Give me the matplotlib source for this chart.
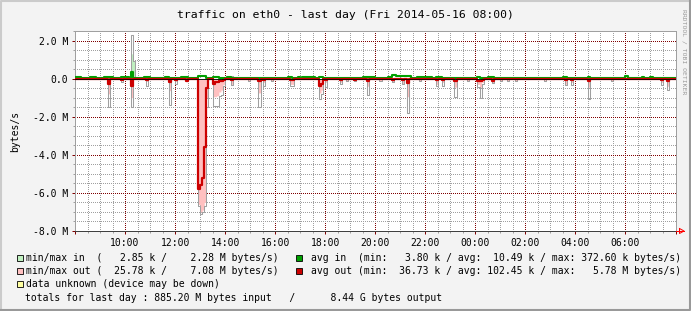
import matplotlib
matplotlib.use("Agg")
import matplotlib.pyplot as plt
from matplotlib.lines import Line2D
from matplotlib.patches import Rectangle
import numpy as np

W, H = 691, 311

title = "traffic on eth0 - last day (Fri 2014-05-16 08:00)"
hour_ticks = [0, 2, 4, 6, 8, 10, 12, 14, 16, 18, 20, 22, 24]
hour_labels = ["", "10:00", "12:00", "14:00", "16:00", "18:00", "20:00",
               "22:00", "00:00", "02:00", "04:00", "06:00", ""]
y_ticks = [2, 0, -2, -4, -6, -8]
y_labels = ["2.0 M", "0.0", "-2.0 M", "-4.0 M", "-6.0 M", "-8.0 M"]

# outgoing traffic, 5 minute samples that stand out (M bytes/s, drawn downward)
out_times = ["09:20", "09:50", "10:15", "10:50", "11:45", "12:00", "12:25",
             "12:55", "13:00", "13:05", "13:10", "13:15",
             "13:30", "13:35", "13:40", "13:45", "13:50", "13:55",
             "14:15", "14:55", "15:20", "15:30", "15:50", "16:35", "16:40",
             "17:45", "17:50", "18:00", "18:35", "18:50", "19:10", "19:40",
             "20:10", "20:40", "21:05", "21:15", "21:45", "22:25", "22:40",
             "23:10", "23:40", "00:05", "00:10", "00:15", "00:40", "01:00",
             "01:15", "01:35", "02:45", "03:35", "03:50", "04:30", "05:25",
             "07:25", "07:40"]
out_peak = [1.47, 0.20, 1.47, 0.37, 1.37, 0.30, 0.15,
            6.70, 7.10, 7.00, 6.70, 1.50,
            1.45, 1.45, 1.45, 0.90, 0.85, 0.40,
            0.35, 0.15, 1.50, 0.40, 0.15, 0.40, 0.40,
            1.05, 0.80, 0.45, 0.30, 0.15, 0.15, 0.85,
            0.15, 0.20, 0.30, 1.80, 0.15, 0.40, 0.40,
            0.95, 0.15, 0.45, 1.00, 0.30, 0.25, 0.15,
            0.15, 0.15, 0.10, 0.35, 0.35, 1.05, 0.15,
            0.35, 0.60]
out_max = [0.80, 0.10, 1.00, 0.15, 0.63, 0.15, 0.10,
           6.60, 7.00, 6.90, 6.50, 1.00,
           0.95, 0.95, 0.90, 0.70, 0.60, 0.30,
           0.30, 0.10, 0.75, 0.20, 0.10, 0.30, 0.30,
           0.75, 0.60, 0.20, 0.20, 0.10, 0.15, 0.40,
           0.10, 0.20, 0.30, 0.95, 0.10, 0.30, 0.20,
           0.45, 0.10, 0.30, 0.45, 0.20, 0.20, 0.10,
           0.10, 0.10, 0.08, 0.30, 0.20, 0.45, 0.10,
           0.20, 0.40]
out_avg = [0.30, 0.05, 0.37, 0.05, 0.20, 0.05, 0.10,
           5.80, 5.60, 5.20, 3.60, 0.50,
           0.30, 0.20, 0.20, 0.15, 0.10, 0.05,
           0.05, 0.03, 0.15, 0.05, 0.03, 0.05, 0.05,
           0.40, 0.30, 0.05, 0.05, 0.03, 0.05, 0.10,
           0.03, 0.05, 0.05, 0.25, 0.03, 0.05, 0.05,
           0.10, 0.03, 0.10, 0.15, 0.05, 0.10, 0.03,
           0.03, 0.03, 0.03, 0.05, 0.05, 0.15, 0.03,
           0.05, 0.10]
out_avg_base = 0.03

# incoming traffic (drawn upward)
in_times = ["10:15", "10:20", "14:15", "06:00"]
in_peak = [2.28, 0.95, 0.15, 0.12]
in_max = [1.30, 0.95, 0.10, 0.10]

in_avg_start = ["08:00", "08:35", "09:10", "09:50", "10:15", "10:45", "11:35",
                "12:15", "12:55", "13:30", "14:05", "16:30", "16:55", "17:05",
                "17:45", "19:30", "20:30", "20:40", "20:50", "21:40", "22:25",
                "00:05", "00:30", "03:30", "04:30", "06:00", "06:40", "07:00"]
in_avg_end = ["08:15", "08:50", "09:30", "10:10", "10:20", "11:00", "11:45",
              "12:30", "13:15", "13:45", "14:15", "16:40", "17:00", "17:35",
              "17:55", "20:00", "20:40", "20:50", "21:25", "22:15", "22:40",
              "00:10", "00:45", "03:40", "04:35", "06:05", "06:45", "07:05"]
in_avg_level = [0.08, 0.08, 0.08, 0.08, 0.37, 0.06, 0.06,
                0.06, 0.12, 0.08, 0.06, 0.06, 0.06, 0.08,
                0.08, 0.08, 0.10, 0.18, 0.12, 0.08, 0.08,
                0.08, 0.08, 0.06, 0.06, 0.15, 0.06, 0.06]
in_avg_base = 0.01

in_stats = [2.85, 2.28]
out_stats = [25.78, 7.08]
in_avg_stats = [3.80, 10.49, 372.60]
out_avg_stats = [36.73, 102.45, 5.78]
totals = [885.20, 8.44]

PINK = "#FFC0C0"
LGREEN = "#C0F0C0"
RED = "#CC0000"
GREEN = "#00A000"
GRAY = "#A0A0A0"
MGRID = "#800000"


def hrs(s):
    h, m = map(int, s.split(":"))
    return ((h - 8) % 24) + m / 60.0


def fx(x):
    return x / W


def fy(y):
    return 1 - y / H


def binned(times, values, base=0.0):
    s = np.full(nbins, base)
    for t, v in zip(times, values):
        s[int(round(hrs(t) * 12)) % nbins] = v
    return np.append(s, s[-1])


plt.rcParams["font.family"] = ["DejaVu Sans Mono"]

fig = plt.figure(figsize=(W / 100, H / 100), dpi=100)
fig.patch.set_facecolor("#F3F3F3")

ax = fig.add_axes([fx(75), fy(231), 600.5 / W, 200 / H])
ax.set_facecolor("white")

nbins = 288
step = 1 / 12
edges = np.arange(nbins + 1) * step

out_avg_s = binned(out_times, out_avg, out_avg_base)
out_max_s = binned(out_times, out_max)
out_peak_s = binned(out_times, out_peak)
in_max_s = binned(in_times, in_max)
in_peak_s = binned(in_times, in_peak)

in_avg_s = np.full(nbins + 1, in_avg_base)
for a, b, v in zip(in_avg_start, in_avg_end, in_avg_level):
    i0 = int(round(hrs(a) * 12))
    i1 = int(round(hrs(b) * 12))
    in_avg_s[i0:max(i1, i0 + 1)] = v

# min/max areas with grey envelope
ax.fill_between(edges, 0, -out_max_s, step="post", color=PINK, lw=0, zorder=2)
ax.fill_between(edges, 0, in_max_s, step="post", color=LGREEN, lw=0, zorder=2)
ax.step(edges, -out_peak_s, where="post", color=GRAY, lw=0.75, zorder=3)
ax.step(edges, in_peak_s, where="post", color=GRAY, lw=0.75, zorder=3)

# averages
ax.step(edges, in_avg_s, where="post", color=GREEN, lw=1.5, zorder=4)
ax.step(edges, -out_avg_s, where="post", color=RED, lw=1.6, zorder=5)
ax.axhline(0, color="black", lw=0.6, zorder=6)

ax.set_xlim(0, 24)
ax.set_ylim(-8, 2.5)
ax.set_xticks(hour_ticks)
ax.set_xticklabels(hour_labels)
ax.set_xticks(np.arange(0, 24.01, 0.5), minor=True)
ax.set_yticks(y_ticks)
ax.set_yticklabels(y_labels)
ax.set_yticks(np.arange(-8, 2.51, 0.5), minor=True)

ax.set_axisbelow(True)
ax.grid(which="minor", color=GRAY, linestyle=(0, (1, 1.5)), lw=0.72,
        antialiased=False)
ax.grid(which="major", color=MGRID, linestyle=(0, (1, 1.5)), lw=0.72,
        antialiased=False)

ax.tick_params(which="major", direction="out", length=2.5, width=0.72,
               color=MGRID, labelsize=7.05, pad=2.2)
ax.tick_params(which="minor", direction="out", length=1.5, width=0.72,
               color=GRAY)
for side in ["left", "top", "right"]:
    ax.spines[side].set_color("#A0A0A0")
    ax.spines[side].set_linewidth(0.72)
ax.spines["bottom"].set_color("#404040")
ax.spines["bottom"].set_linewidth(0.72)

# axis arrow
fig.add_artist(Line2D([fx(675.5), fx(684)], [fy(231), fy(231)], color="red", lw=0.72))
fig.add_artist(Line2D([fx(679.5), fx(679.5), fx(684), fx(679.5)],
                      [fy(228.5), fy(233.5), fy(231), fy(228.5)], color="red", lw=0.72))

# frame shading
fig.add_artist(Line2D([fx(1), fx(1), fx(690)], [fy(310), fy(1), fy(1)],
                      color="#CBCBCB", lw=1.5))
fig.add_artist(Line2D([fx(1), fx(690), fx(690)], [fy(310), fy(310), fy(1)],
                      color="#999999", lw=1.5))

fig.text(fx(345.5), fy(15), title, fontsize=8.2, ha="center", va="center")
fig.text(fx(15), fy(131), "bytes/s", fontsize=7.05, rotation=90,
         ha="center", va="center")
fig.text(fx(684.5), fy(52), "RRDTOOL / TOBI OETIKER", fontsize=4.6,
         rotation=270, ha="center", va="center", color="#999999")

# legend
rows = [258, 271, 284.3, 297.7]


def box(x, y, color):
    fig.add_artist(Rectangle((fx(x), fy(y + 3)), 6 / W, 6 / H, facecolor=color,
                             edgecolor="black", lw=0.6, transform=fig.transFigure))


box(16.5, rows[0], LGREEN)
box(16.5, rows[1], PINK)
box(16.5, rows[2], "#FFFFA0")
box(296, rows[0], GREEN)
box(296, rows[1], RED)

leg = [
    (26.5, rows[0], "min/max in  (%7.2f k / %7.2f M bytes/s)" % tuple(in_stats)),
    (26.5, rows[1], "min/max out (%7.2f k / %7.2f M bytes/s)" % tuple(out_stats)),
    (311, rows[0], "avg in  (min:%7.2f k / avg:%7.2f k / max:%7.2f k bytes/s)" % tuple(in_avg_stats)),
    (311, rows[1], "avg out (min:%7.2f k / avg:%7.2f k / max:%7.2f M bytes/s)" % tuple(out_avg_stats)),
    (26.5, rows[2], "data unknown (device may be down)"),
    (25, rows[3], "totals for last day : %.2f M bytes input   /      %.2f G bytes output" % tuple(totals)),
]
for x, y, s in leg:
    fig.text(fx(x), fy(y), s, fontsize=7.05, ha="left", va="center")

fig.savefig("out.png", dpi=100, facecolor=fig.get_facecolor())
